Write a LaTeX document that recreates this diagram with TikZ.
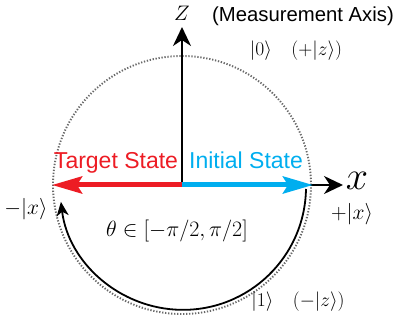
\documentclass[tikz,border=0pt]{standalone}
\usepackage{fix-cm}
\usepackage{fontspec}
\newfontfamily\labelsans{Liberation Sans}
\usetikzlibrary{arrows.meta}
\definecolor{tred}{RGB}{237,28,36}
\definecolor{tblue}{RGB}{0,174,239}
\definecolor{dotgray}{RGB}{105,105,105}
\begin{document}
\begin{tikzpicture}[x=1pt,y=1pt,
  axis/.style={line width=2.2pt,-{Stealth[length=19pt,width=18pt,inset=6pt]}},
  statearrow/.style={line width=5pt,-{Stealth[length=30pt,width=17pt,inset=5pt]}},
  mathlbl/.style={inner sep=0pt,font=\fontsize{19.5}{21}\selectfont},
  bigmath/.style={inner sep=0pt,font=\fontsize{21.5}{23}\selectfont},
  statelbl/.style={inner sep=0pt,anchor=base,font=\labelsans\fontsize{23}{25}\selectfont}]
\useasboundingbox (0,0) rectangle (397,327);
\coordinate (O) at (182,142);
\coordinate (ztip) at (182,300);
\coordinate (xtip) at (343,142);
\coordinate (redtip) at (52,142);
\coordinate (bluetip) at (313,142);
\coordinate (arcstart) at (306,138);
% dotted circle
\draw[dotgray,line width=1.9pt,dash pattern=on 1.3pt off 1.7pt] (O) circle[radius=129];
% axes
\draw[axis] (O) -- (xtip);
\draw[axis] (O) -- (ztip);
\draw[statearrow,tred] (O) -- (redtip);
\draw[statearrow,tblue] (O) -- (bluetip);
% rotation arc
\draw[line width=1.8pt,-{Stealth[length=14pt,width=12pt,inset=4pt]}] (arcstart) arc[start angle=-1,end angle=-173,radius=123];
% labels
\node[inner sep=0pt,font=\fontsize{21}{23}\selectfont] (zlbl) at (182,314) {$Z$};
\node[inner sep=0pt,font=\labelsans\fontsize{20.3}{22}\selectfont] (meas) at (303,311) {(Measurement Axis)};
\node[inner sep=0pt,anchor=base,font=\fontsize{40}{42}\selectfont] (xlbl) at (357,137) {$x$};
\node[statelbl,text=tred] (target) at (116,158) {Target State};
\node[statelbl,text=tblue] (initial) at (246,158) {Initial State};
\node[bigmath] (mx) at (26,118) {$-|x\rangle$};
\node[bigmath] (px) at (352,113) {$+|x\rangle$};
\node[mathlbl] (zero) at (296,276) {$|0\rangle\quad(+|z\rangle)$};
\node[mathlbl] (one) at (298,25) {$|1\rangle\quad(-|z\rangle)$};
\node[inner sep=0pt,font=\fontsize{22}{24}\selectfont] (theta) at (177,96) {$\theta\in[-\pi/2,\pi/2]$};
\end{tikzpicture}
\end{document}
